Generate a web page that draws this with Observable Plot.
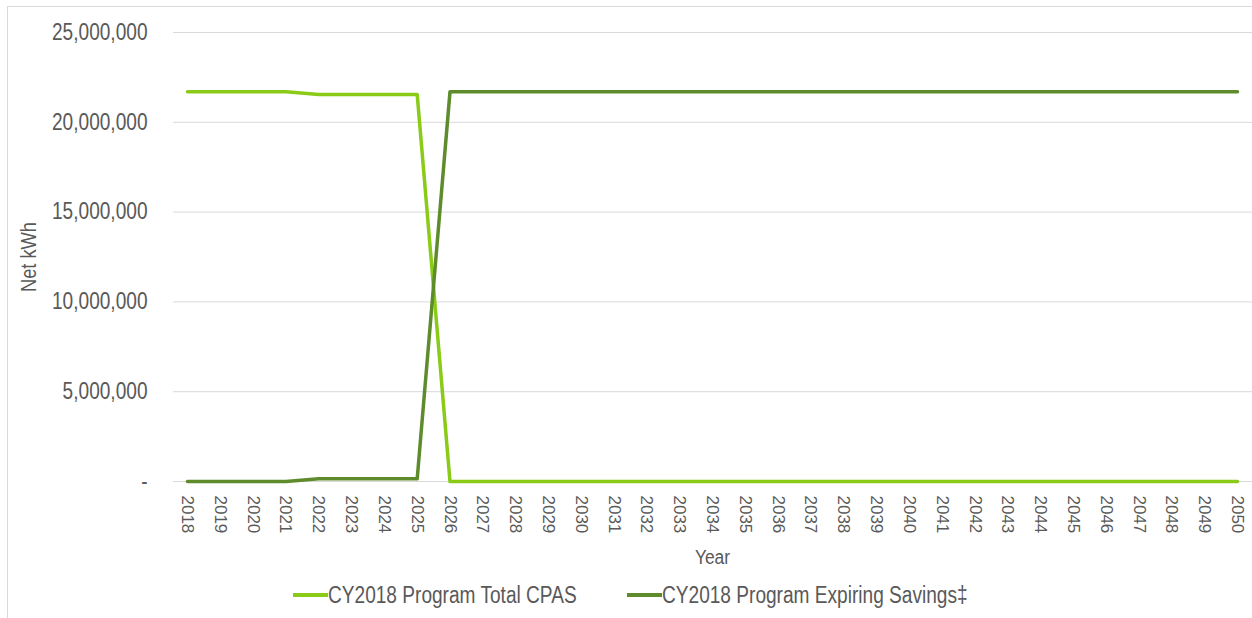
<!DOCTYPE html>
<html>
<head>
<meta charset="utf-8">
<script src="https://cdn.jsdelivr.net/npm/d3@7"></script>
<script src="https://cdn.jsdelivr.net/npm/@observablehq/plot@0.6"></script>
<style>
  body { margin: 0; background: #fff; }
  #wrap { position: relative; width: 1252px; height: 618px; overflow: hidden;
    font-family: "Liberation Sans", Arial, sans-serif; color: #595959; }
  #frame { position: absolute; left: 7px; top: 6px; width: 1270px; height: 640px;
    border-left: 1px solid #d9d9d9; border-top: 1px solid #d9d9d9; }
  #chart { position: absolute; left: 0; top: 0; }
  #legend { position: absolute; left: 293px; top: 580px; height: 30px;
    display: flex; align-items: center; font-size: 23px; white-space: nowrap; }
  .item { display: flex; align-items: center; }
  .sw { display: inline-block; width: 35px; height: 4px; }
  .lab { display: inline-block; transform: scaleX(0.83); transform-origin: left center; }
</style>
</head>
<body>
<div id="wrap">
  <div id="frame"></div>
  <div id="chart"></div>
  <div id="legend"></div>
</div>
<script>
const years = [2018, 2019, 2020, 2021, 2022, 2023, 2024, 2025, 2026, 2027, 2028,
  2029, 2030, 2031, 2032, 2033, 2034, 2035, 2036, 2037, 2038, 2039, 2040,
  2041, 2042, 2043, 2044, 2045, 2046, 2047, 2048, 2049, 2050];

const totalCPAS = [21700000, 21700000, 21700000, 21700000, 21550000, 21550000, 21550000, 21550000,
  0, 0, 0, 0, 0, 0, 0, 0, 0, 0, 0, 0, 0, 0, 0, 0, 0, 0, 0, 0, 0, 0, 0, 0, 0];

const expiringSavings = [0, 0, 0, 0, 150000, 150000, 150000, 150000,
  21700000, 21700000, 21700000, 21700000, 21700000, 21700000, 21700000, 21700000, 21700000,
  21700000, 21700000, 21700000, 21700000, 21700000, 21700000, 21700000, 21700000, 21700000,
  21700000, 21700000, 21700000, 21700000, 21700000, 21700000, 21700000];

const yTicks = [0, 5000000, 10000000, 15000000, 20000000, 25000000];

const seriesNames = ["CY2018 Program Total CPAS", "CY2018 Program Expiring Savings\u2021"];
const seriesColors = ["#8acb18", "#5e8b2b"];
const yLabel = "Net kWh";
const xLabel = "Year";

const cpasRows = years.map((y, i) => ({year: y, value: totalCPAS[i]}));
const expRows = years.map((y, i) => ({year: y, value: expiringSavings[i]}));

const font = '"Liberation Sans", Arial, sans-serif';
const yFmt = d => d === 0 ? "-" : d3.format(",")(d);

const chart = Plot.plot({
  width: 1252,
  height: 575,
  marginLeft: 187,
  marginRight: 15,
  marginTop: 32,
  marginBottom: 94,
  style: {fontFamily: font, color: "#595959", background: "transparent"},
  x: {type: "linear", domain: [years[0], years[years.length - 1]]},
  y: {domain: [0, 25000000]},
  marks: [
    Plot.ruleY(yTicks, {stroke: "#d9d9d9", strokeWidth: 1, insetLeft: -14, insetRight: -15}),
    Plot.axisY(yTicks, {tickSize: 0, tickPadding: 40, fontSize: 23, fill: "#595959",
      tickFormat: yFmt, label: null}),
    Plot.axisX(years, {tickSize: 0, tickPadding: 14, tickRotate: 90, fontSize: 17,
      fill: "#595959", tickFormat: d => String(d), label: null}),
    Plot.text([yLabel], {text: d => d, frameAnchor: "left", textAnchor: "middle", lineAnchor: "middle",
      dx: -159, rotate: -90, fontSize: 22, fill: "#595959"}),
    Plot.text([xLabel], {text: d => d, frameAnchor: "bottom", textAnchor: "middle", lineAnchor: "middle",
      dy: 76, fontSize: 21, fill: "#595959"}),
    Plot.line(cpasRows, {x: "year", y: "value", stroke: seriesColors[0], strokeWidth: 3.5}),
    Plot.line(expRows, {x: "year", y: "value", stroke: seriesColors[1], strokeWidth: 3.5})
  ]
});
document.getElementById("chart").appendChild(chart);

// condense horizontal texts to mimic the narrow face of the original
const k = 0.83;
const narrowTexts = new Set([...yTicks.map(yFmt), yLabel, xLabel]);
chart.querySelectorAll("text").forEach(t => {
  if (!narrowTexts.has(t.textContent)) return;
  const xa = t.getAttribute("x");
  if (xa !== null && xa !== "" && !isNaN(+xa)) t.setAttribute("x", +xa / k);
  const tr = t.getAttribute("transform") || "";
  t.setAttribute("transform", (tr + ` scale(${k},1)`).trim());
});

const legend = document.getElementById("legend");
seriesNames.forEach((name, i) => {
  const item = document.createElement("div");
  item.className = "item";
  if (i > 0) item.style.marginLeft = "50px";
  const sw = document.createElement("span");
  sw.className = "sw";
  sw.style.background = seriesColors[i];
  const label = document.createElement("span");
  label.className = "lab";
  label.textContent = name;
  item.appendChild(sw);
  item.appendChild(label);
  legend.appendChild(item);
  const w = label.getBoundingClientRect().width;
  label.style.width = w + "px";
});
</script>
</body>
</html>
